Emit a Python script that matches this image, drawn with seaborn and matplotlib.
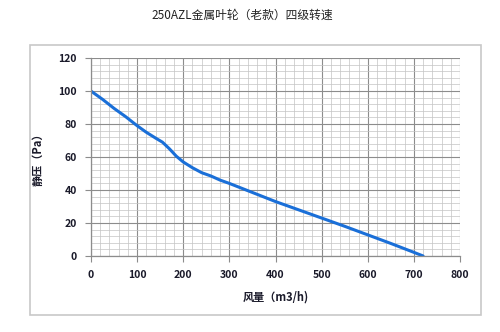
import matplotlib
matplotlib.use("Agg")
import matplotlib.pyplot as plt
import seaborn as sns
import pandas as pd
from matplotlib.patches import Rectangle
from matplotlib.ticker import MultipleLocator

airflow = [0, 25, 50, 75, 100, 120, 140, 155, 170, 185, 200, 220, 240, 260, 280, 300, 350, 400, 450, 500, 550, 600, 650, 700, 720]
pressure = [100, 95, 89.5, 84.5, 79, 75, 71.5, 69, 65, 60.5, 57, 53.5, 50.5, 48.5, 46, 44, 38.5, 33, 28, 23, 18, 12.8, 7.6, 2.2, 0]
title = "250AZL金属叶轮（老款）四级转速"
xlabel = "风量（m3/h)"
ylabel = "静压（Pa）"

df = pd.DataFrame({"airflow": airflow, "pressure": pressure})

sns.set_style("white")
plt.rcParams['font.family'] = ['Noto Sans CJK SC', 'DejaVu Sans']

fig = plt.figure(figsize=(5, 3.32), dpi=100)
fig.patches.append(Rectangle((0.06, 0.051), 0.902, 0.813, transform=fig.transFigure,
                             fill=False, edgecolor='#c8c8c8', linewidth=1.2))
ax = fig.add_axes([0.182, 0.229, 0.738, 0.596])

sns.lineplot(data=df, x="airflow", y="pressure", ax=ax, color='#1a6fd8', linewidth=2.2)

ax.set_xlim(0, 800)
ax.set_ylim(0, 120)
ax.xaxis.set_major_locator(MultipleLocator(100))
ax.xaxis.set_minor_locator(MultipleLocator(20))
ax.yaxis.set_major_locator(MultipleLocator(20))
ax.yaxis.set_minor_locator(MultipleLocator(4))
ax.grid(which='major', color='#8c8c8c', linewidth=0.8)
ax.grid(which='minor', color='#c4c4c4', linewidth=0.5)
ax.set_axisbelow(True)
for s in ['top', 'right']:
    ax.spines[s].set_visible(False)
for s in ['left', 'bottom']:
    ax.spines[s].set_color('#8c8c8c')
    ax.spines[s].set_linewidth(0.9)
ax.tick_params(axis='both', which='major', direction='out', length=4, width=0.8,
               color='#8c8c8c', labelsize=7.5, labelcolor='#1a1a2a', pad=6)
ax.tick_params(axis='both', which='minor', length=0)
ax.tick_params(left=True, bottom=True)
for lab in ax.get_xticklabels() + ax.get_yticklabels():
    lab.set_fontweight('bold')

ax.set_xlabel(xlabel, fontsize=8, fontweight='bold', color='#1a1a2a', labelpad=8)
ax.set_ylabel(ylabel, fontsize=8, fontweight='bold', color='#1a1a2a', labelpad=10)
fig.text(0.484, 0.955, title, ha='center', va='center', fontsize=8.5, color='#222222')

fig.savefig("out.png", dpi=100, facecolor='white')
